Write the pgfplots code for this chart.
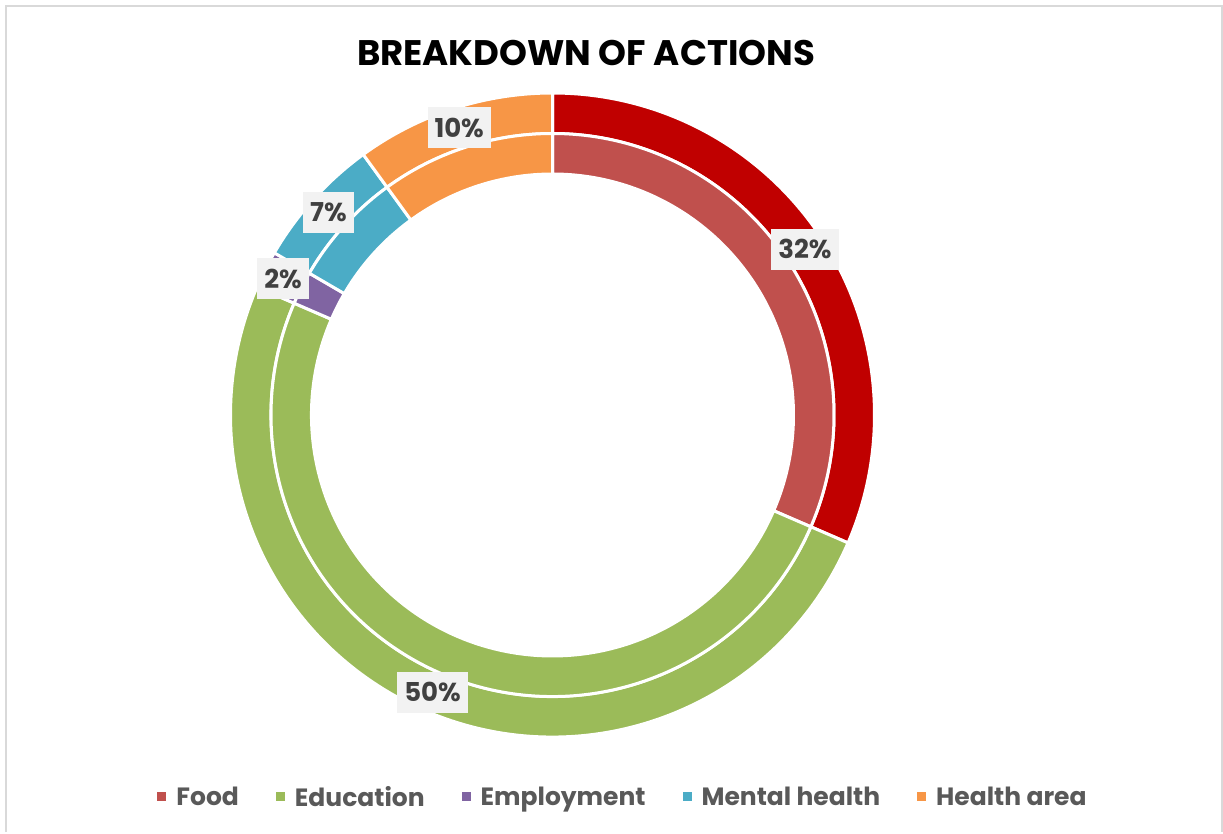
\documentclass[border=0pt]{standalone}
\usepackage{pgfplots}
\usepackage{pgfplotstable}
\pgfplotsset{compat=1.18}
\usepackage{fontspec}
\setmainfont{Poppins}

\definecolor{outer0}{HTML}{C00000}
\definecolor{outer1}{HTML}{9BBB59}
\definecolor{outer2}{HTML}{8064A2}
\definecolor{outer3}{HTML}{4BACC6}
\definecolor{outer4}{HTML}{F79646}
\definecolor{inner0}{HTML}{C0504D}
\definecolor{inner1}{HTML}{9BBB59}
\definecolor{inner2}{HTML}{8064A2}
\definecolor{inner3}{HTML}{4BACC6}
\definecolor{inner4}{HTML}{F79646}
\definecolor{labelbg}{HTML}{F2F2F2}
\definecolor{labeltext}{HTML}{404040}
\definecolor{legtext}{HTML}{595959}
\definecolor{framecol}{HTML}{D9D9D9}

\pgfplotstableread[col sep=comma]{
name,value
Food,31.5
Education,50.0
Employment,1.9
Mental health,6.6
Health area,10.0
}\datatable

% cumulative angles (clockwise from 12 o'clock)
\def\cum{0}
\pgfplotsforeachungrouped \i in {0,...,4}{%
  \pgfplotstablegetelem{\i}{value}\of\datatable
  \let\v\pgfplotsretval
  \pgfmathsetmacro\sa{90-3.6*\cum}%
  \pgfmathsetmacro\cum{\cum+\v}%
  \pgfmathsetmacro\ea{90-3.6*\cum}%
  \pgfmathsetmacro\ma{(\sa+\ea)/2}%
  \pgfmathtruncatemacro\lab{round(\v)}%
  \expandafter\xdef\csname sa\i\endcsname{\sa}%
  \expandafter\xdef\csname ea\i\endcsname{\ea}%
  \expandafter\xdef\csname ma\i\endcsname{\ma}%
  \expandafter\xdef\csname lab\i\endcsname{\lab}%
}

\begin{document}
\begin{tikzpicture}
\begin{axis}[
  hide axis,
  scale only axis,
  x=1pt, y=1pt,
  xmin=0, xmax=1223, ymin=0, ymax=832,
  clip=false,
  legend columns=-1,
  legend image code/.code={\fill[#1, draw=none] (0pt,-4pt) rectangle (9pt,5pt); \path[draw=none, fill=none] (0pt,0pt) (17pt,0pt);},
  legend style={
    draw=none, fill=none,
    at={(0.5094,0.042)}, anchor=center,
    font=\fontsize{25}{30}\selectfont\bfseries\color{legtext},
    /tikz/every even column/.append style={column sep=35pt},
  },
]
\path (axis cs:0,0) rectangle (axis cs:1223,832);
% frame
\draw[framecol, line width=2pt] (axis cs:6,0) -- (axis cs:6,826) -- (axis cs:1221.5,826) -- (axis cs:1221.5,0);

% outer ring
\pgfplotsinvokeforeach{0,...,4}{
  \fill[fill=outer#1, draw=white, line width=3pt]
    ([shift={(\csname sa#1\endcsname:322pt)}]axis cs:552.5,417)
    arc[start angle=\csname sa#1\endcsname, end angle=\csname ea#1\endcsname, radius=322pt]
    -- ([shift={(\csname ea#1\endcsname:281.5pt)}]axis cs:552.5,417)
    arc[start angle=\csname ea#1\endcsname, end angle=\csname sa#1\endcsname, radius=281.5pt]
    -- cycle;
}
% inner ring
\pgfplotsinvokeforeach{0,...,4}{
  \fill[fill=inner#1, draw=white, line width=3pt]
    ([shift={(\csname sa#1\endcsname:281.5pt)}]axis cs:552.5,417)
    arc[start angle=\csname sa#1\endcsname, end angle=\csname ea#1\endcsname, radius=281.5pt]
    -- ([shift={(\csname ea#1\endcsname:241pt)}]axis cs:552.5,417)
    arc[start angle=\csname ea#1\endcsname, end angle=\csname sa#1\endcsname, radius=241pt]
    -- cycle;
}
% labels
\pgfplotsinvokeforeach{0,...,4}{
  \node[fill=labelbg, text=labeltext, font=\fontsize{26}{30}\selectfont\bfseries,
        inner xsep=7pt, minimum height=41pt]
    at ([shift={(\csname ma#1\endcsname:302pt)}]axis cs:552.5,417) {\csname lab#1\endcsname\%};
}

% title
\node[font=\fontsize{35.5}{42}\selectfont\bfseries, text=black] at (axis cs:586,779) {BREAKDOWN OF ACTIONS};

% legend
\addlegendimage{fill=inner0}\addlegendentry{Food}
\addlegendimage{fill=inner1}\addlegendentry{Education}
\addlegendimage{fill=inner2}\addlegendentry{Employment}
\addlegendimage{fill=inner3}\addlegendentry{Mental health}
\addlegendimage{fill=inner4}\addlegendentry{Health area}
\end{axis}
\end{tikzpicture}
\end{document}
